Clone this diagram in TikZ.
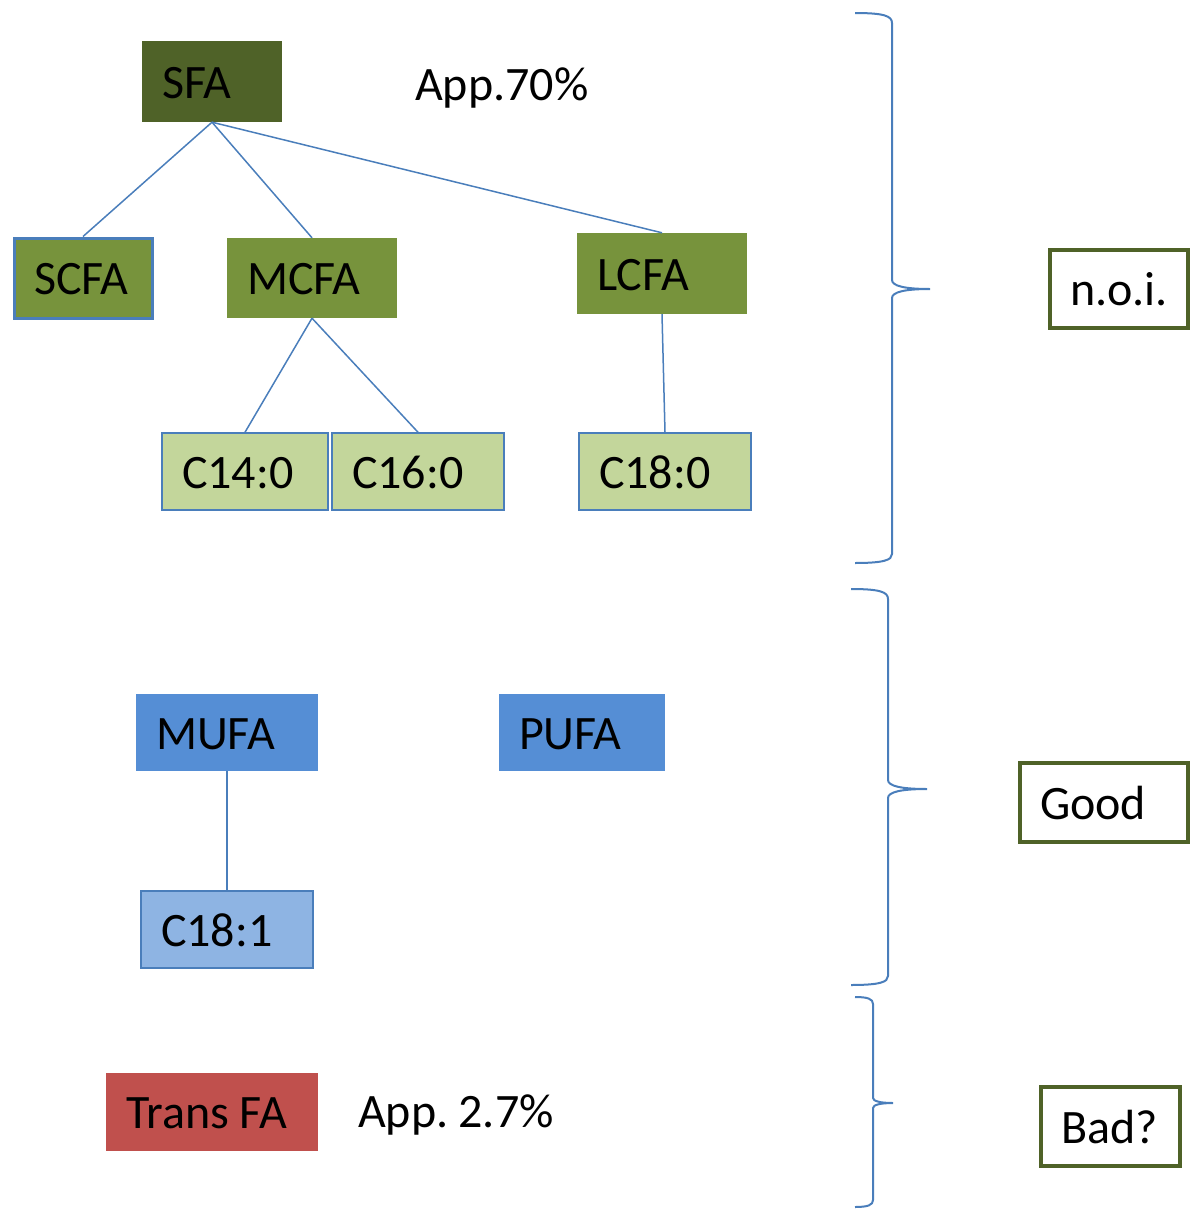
\documentclass[tikz,border=0pt]{standalone}
\usepackage{fontspec}
\setmainfont{Carlito}[WordSpace=0.6]
\definecolor{olivedark}{HTML}{4F6228}
\definecolor{olivemid}{HTML}{77933C}
\definecolor{olivelight}{HTML}{C3D69B}
\definecolor{linkblue}{HTML}{4A7EBB}
\definecolor{bluemid}{HTML}{558ED5}
\definecolor{bluelight}{HTML}{8EB4E3}
\definecolor{redfa}{HTML}{C0504D}
\begin{document}
\begin{tikzpicture}[x=1pt,y=-1pt,
  bx/.style={rectangle, inner xsep=20pt, inner ysep=0pt, align=left,
    text height=33pt, text depth=0pt, font=\fontsize{48}{58}\selectfont},
  sfabox/.style={bx, fill=olivedark},
  chainbox/.style={bx, fill=olivemid},
  scfabox/.style={bx, fill=olivemid, draw=linkblue, line width=3pt},
  leafbox/.style={bx, fill=olivelight, draw=linkblue, line width=1.5pt},
  unsatbox/.style={bx, fill=bluemid},
  unsatleaf/.style={bx, fill=bluelight, draw=linkblue, line width=1.5pt},
  transbox/.style={bx, fill=redfa},
  verdict/.style={bx, fill=white, draw=olivedark, line width=3.2pt},
  lbl/.style={inner sep=0pt, anchor=west, text height=33pt, text depth=0pt,
    font=\fontsize{48}{58}\selectfont},
  conn/.style={draw=linkblue, line width=1.5pt},
  brace/.style={draw=linkblue, line width=2pt}
]
\useasboundingbox (0,0) rectangle (1192,1210);

% saturated tree
\node[sfabox, text width=100pt, minimum height=81pt] (sfa) at (212,81.5) {SFA};
\node[lbl] (app70) at (415,84) {App.70\%};
\node[scfabox, text width=98pt, minimum height=80pt] (scfa) at (83,278) {SCFA};
\node[chainbox, text width=130pt, minimum height=80pt] (mcfa) at (312,278) {MCFA};
\node[chainbox, text width=130pt, minimum height=81pt] (lcfa) at (662,273.5) {LCFA};
\node[leafbox, text width=126pt, minimum height=77pt] (c14) at (245,471.5) {C14:0};
\node[leafbox, text width=132pt, minimum height=77pt] (c16) at (418,471.5) {C16:0};
\node[leafbox, text width=132pt, minimum height=77pt] (c18) at (665,471.5) {C18:0};

\draw[conn] (sfa.south) -- (scfa.north);
\draw[conn] (sfa.south) -- (mcfa.north);
\draw[conn] (sfa.south) -- (lcfa.north);
\draw[conn] (mcfa.south) -- (c14.north);
\draw[conn] (mcfa.south) -- (c16.north);
\draw[conn] (lcfa.south) -- (c18.north);

% unsaturated
\node[unsatbox, text width=142pt, minimum height=77pt] (mufa) at (227,732.5) {MUFA};
\node[unsatbox, text width=126pt, minimum height=77pt] (pufa) at (582,732.5) {PUFA};
\node[unsatleaf, text width=132pt, minimum height=77pt] (c181) at (227,929.5) {C18:1};
\draw[conn] (mufa.south) -- (c181.north);

% trans
\node[transbox, text width=172pt, minimum height=78pt] (trans) at (212,1112) {Trans\hspace{10.8pt}FA};
\node[lbl] (app27) at (358,1111) {App. 2.7\%};

% verdict boxes
\node[verdict, text width=98pt, minimum height=78pt] (noi) at (1119,289) {n.o.i.};
\node[verdict, text width=128pt, minimum height=79pt] (good) at (1104,802.5) {Good};
\node[verdict, text width=99pt, minimum height=79pt] (bad) at (1110.5,1126.5) {Bad?};

% braces
\draw[brace] (855,13) .. controls (884,13) and (892,16) .. (892,23)
  -- (892,280) .. controls (892,286) and (905,289) .. (930,289)
  .. controls (905,289) and (892,292) .. (892,298)
  -- (892,554) .. controls (892,560) and (884,563) .. (855,563);
\draw[brace] (851,589) .. controls (880,589) and (888,592) .. (888,599)
  -- (888,780) .. controls (888,786) and (901,789) .. (927,789)
  .. controls (901,789) and (888,792) .. (888,798)
  -- (888,976) .. controls (888,982) and (880,985) .. (851,985);
\draw[brace] (855,997) .. controls (868,997) and (873,999) .. (873,1004)
  -- (873,1098) .. controls (873,1101) and (880,1103) .. (893,1103)
  .. controls (880,1103) and (873,1105) .. (873,1108)
  -- (873,1200) .. controls (873,1205) and (868,1207) .. (855,1207);
\end{tikzpicture}
\end{document}
